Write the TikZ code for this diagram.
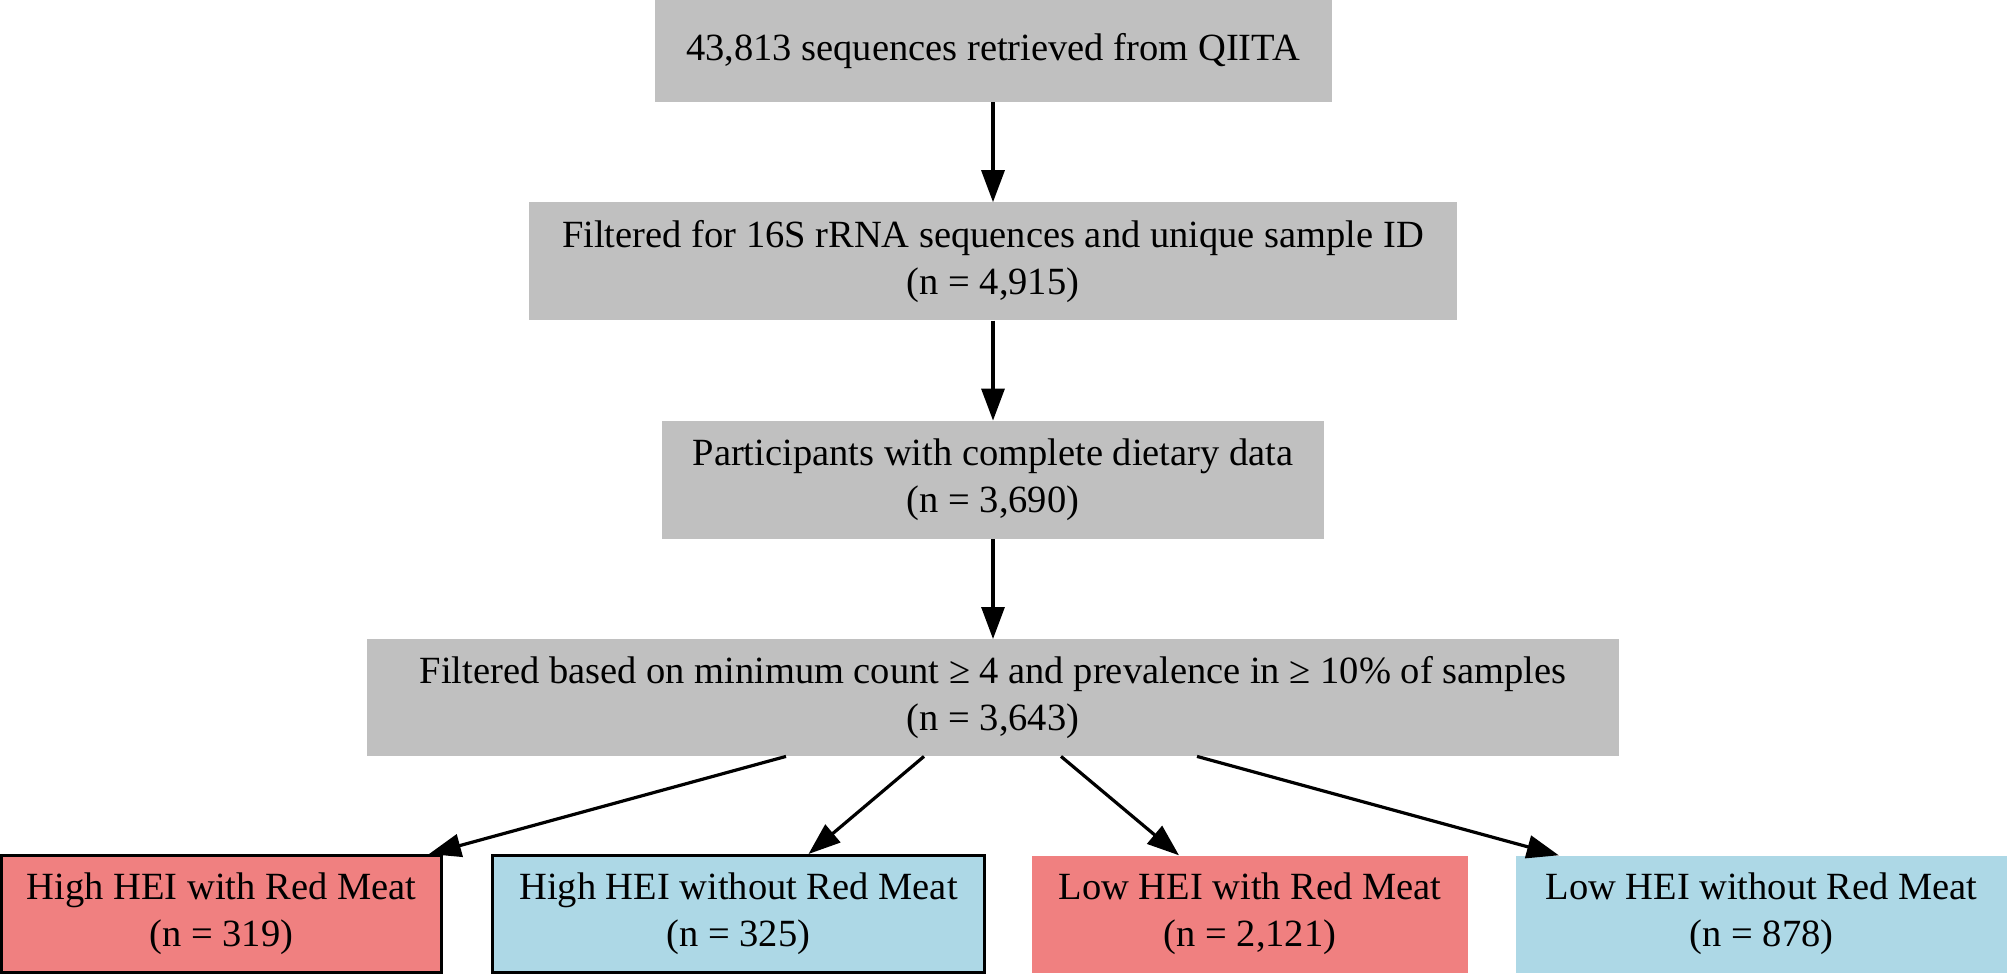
\documentclass[tikz,border=0pt]{standalone}
\usepackage{fontspec}
\setmainfont{Liberation Serif}
\usepackage{xcolor}
\usepackage{tikz}
\usetikzlibrary{arrows.meta, positioning, calc}
\definecolor{FlowGray}{RGB}{192, 192, 192}
\definecolor{FlowRed}{RGB}{240, 128, 128}
\definecolor{FlowBlue}{RGB}{173, 216, 230}

\tikzset{
  stagebox/.style={rectangle, fill=FlowGray, align=center, inner sep=0pt,
    font=\fontsize{38.5}{47}\selectfont},
  groupbox/.style={rectangle, align=center, inner sep=0pt, minimum height=117pt,
    font=\fontsize{38.5}{47}\selectfont},
  edged/.style={draw=black, line width=3pt},
  flow/.style={-{Triangle[length=32pt, width=23pt]}, line width=3.2pt}
}

\begin{document}
\begin{tikzpicture}[x=1pt, y=1pt, node distance=100pt]
  \useasboundingbox (0,0) rectangle (2007,-974);

  % main chain
  \node[stagebox, minimum width=677pt, minimum height=102pt] (qiita) at (993,-51)
    {43,813 sequences retrieved from QIITA};
  \node[stagebox, minimum width=928pt, minimum height=118pt, below=of qiita] (rrna)
    {Filtered for 16S rRNA sequences and unique sample ID\\(n = 4,915)};
  \node[stagebox, minimum width=662pt, minimum height=118pt, below=of rrna] (diet)
    {Participants with complete dietary data\\(n = 3,690)};
  \node[stagebox, minimum width=1252pt, minimum height=117pt, below=of diet] (prev)
    {Filtered based on minimum count ≥ 4 and prevalence in ≥ 10\% of samples\\(n = 3,643)};

  % groups
  \node[groupbox, edged, fill=FlowRed, minimum width=440pt] (hiRed) at (221.5,-914)
    {High HEI with Red Meat\\(n = 319)};
  \node[groupbox, edged, fill=FlowBlue, minimum width=492pt] (hiNoRed) at (738.5,-914)
    {High HEI without Red Meat\\(n = 325)};
  \node[groupbox, fill=FlowRed, minimum width=436pt] (loRed) at (1250,-914)
    {Low HEI with Red Meat\\(n = 2,121)};
  \node[groupbox, fill=FlowBlue, minimum width=491pt] (loNoRed) at (1761.5,-914)
    {Low HEI without Red Meat\\(n = 878)};

  \draw[flow] (qiita) -- (rrna);
  \draw[flow] (rrna) -- (diet);
  \draw[flow] (diet) -- (prev);
  \draw[flow] ($(prev.south)+(-207,0)$) -- ($(hiRed.north east)+(-14,0)$);
  \draw[flow] ($(prev.south)+(-69,0)$) -- ($(hiNoRed.north)+(70,0)$);
  \draw[flow] ($(prev.south)+(68,0)$) -- ($(loRed.north)+(-71,0)$);
  \draw[flow] ($(prev.south)+(204,0)$) -- ($(loNoRed.north west)+(43,0)$);
\end{tikzpicture}
\end{document}
